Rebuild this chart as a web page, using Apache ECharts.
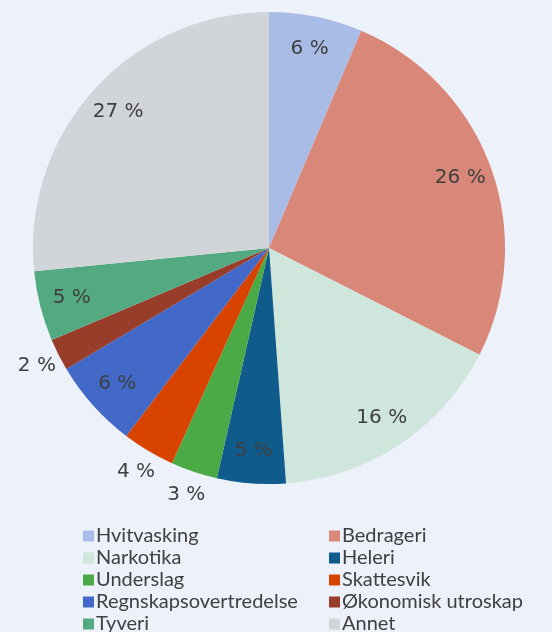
<!DOCTYPE html>
<html>
	<head>
		<meta charset="utf-8">
		<title>Pie</title>
		<script src="https://cdn.jsdelivr.net/npm/echarts@6/dist/echarts.min.js"></script>
		<style>
			html, body {
				margin: 0;
				padding: 0;
				background: #edf1fa;
			}
		</style>
	</head>
	<body>
		<div id="chart" style="width:552px;height:632px"></div>
		<script type="text/javascript">
			var categories = ['Hvitvasking', 'Bedrageri', 'Narkotika', 'Heleri', 'Underslag',
				'Skattesvik', 'Regnskapsovertredelse', 'Økonomisk utroskap', 'Tyveri', 'Annet'];
			var values = [6.4, 26.1, 16.4, 4.7, 3.2, 3.6, 6.1, 2.2, 4.8, 26.6];
			var colors = ['#a9bce6', '#d98778', '#cfe6dc', '#0f5b8c', '#4aab46',
				'#d94300', '#4269c8', '#973d29', '#53aa80', '#d1d5d9'];
			// små sektorer får etiketten utenfor
			var outside = ['Underslag', 'Skattesvik', 'Økonomisk utroskap'];

			var leftNames = ['Hvitvasking', 'Narkotika', 'Underslag', 'Regnskapsovertredelse', 'Tyveri'];
			var rightNames = ['Bedrageri', 'Heleri', 'Skattesvik', 'Økonomisk utroskap', 'Annet'];

			var center = [269, 248];
			var R = 236;

			var pieData = categories.map(function (name, i) {
				return {name: name, value: values[i], itemStyle: {color: colors[i]}};
			});
			function labelData(showOutside) {
				return categories.map(function (name, i) {
					var out = outside.indexOf(name) >= 0;
					return {name: name, value: values[i], label: {show: out === showOutside}};
				});
			}
			var labelStyle = {
				position: 'inside',
				formatter: function (p) { return Math.round(p.value) + ' %'; },
				fontFamily: '"DejaVu Sans"',
				fontSize: 20,
				color: '#404040'
			};
			// usynlige ringer som bare bærer etikettene
			function labelRing(name, radius, showOutside) {
				return {
					name: name,
					type: 'pie',
					center: center,
					radius: radius,
					startAngle: 90,
					clockwise: true,
					silent: true,
					avoidLabelOverlap: false,
					itemStyle: {color: 'rgba(0,0,0,0)'},
					emphasis: {disabled: true},
					label: labelStyle,
					labelLine: {show: false},
					data: labelData(showOutside)
				};
			}

			function legendOf(names, left) {
				return {
					orient: 'vertical',
					left: left,
					top: 520,
					height: 120,
					data: names,
					icon: 'rect',
					itemWidth: 11,
					itemHeight: 11,
					itemGap: 0,
					textStyle: {fontFamily: 'Lato', fontSize: 20, color: '#404040', lineHeight: 22, padding: [0, 0, 0, -3]}
				};
			}

			var myChart = echarts.init(document.getElementById('chart'));
			myChart.setOption({
				backgroundColor: '#edf1fa',
				animation: false,
				legend: [legendOf(leftNames, 78), legendOf(rightNames, 324)],
				series: [
					{
						name: 'pie',
						type: 'pie',
						center: center,
						radius: [0, R],
						startAngle: 90,
						clockwise: true,
						label: {show: false},
						labelLine: {show: false},
						emphasis: {disabled: true},
						data: pieData
					},
					labelRing('inne', [R * 0.7, R], false),
					labelRing('ute', [R, R * 1.18], true)
				]
			});
		</script>
	</body>
</html>
